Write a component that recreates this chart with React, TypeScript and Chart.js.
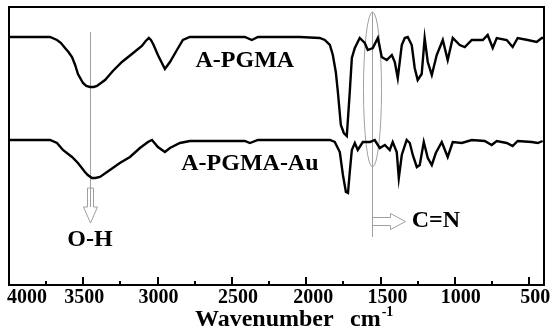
import React, { useEffect, useRef } from "react";
import { Chart, registerables } from "chart.js";
Chart.register(...registerables);

// ---- data (wavenumber in cm-1, signal in arbitrary units) ----
const seriesNames = ["A-PGMA", "A-PGMA-Au"];

const wnA = [4000, 3724, 3677, 3650, 3623, 3600, 3576, 3555, 3536, 3502, 3480, 3455, 3430, 3408, 3354, 3301, 3240, 3173, 3106, 3080, 3059, 3045, 3030, 2998, 2951, 2917, 2870, 2830, 2783, 2648, 2413, 2366, 2325, 2043, 1909, 1875, 1841, 1821, 1801, 1787, 1767, 1747, 1727, 1707, 1693, 1673, 1640, 1606, 1586, 1552, 1518, 1492, 1458, 1424, 1404, 1384, 1357, 1337, 1317, 1290, 1270, 1250, 1223, 1203, 1182, 1155, 1122, 1081, 1048, 1014, 967, 933, 886, 812, 779, 745, 718, 651, 611, 577, 510, 449, 415, 400];
const tA = [248, 248, 245, 242, 237, 233, 228, 220, 211, 202, 199, 198, 198, 199, 205, 214, 223, 231, 239, 244, 247, 245, 241, 230, 216, 223, 235, 245, 248, 248, 248, 245, 248, 248, 247, 245, 240, 230, 213, 193, 160, 152, 149, 193, 227, 237, 247, 242, 235, 237, 247, 228, 225, 230, 223, 207, 240, 247, 248, 240, 217, 205, 211, 247, 223, 210, 230, 245, 225, 247, 240, 238, 245, 245, 250, 237, 247, 245, 238, 247, 245, 243, 247, 247];

const wnAu = [4000, 3724, 3677, 3637, 3576, 3536, 3489, 3470, 3442, 3420, 3388, 3321, 3254, 3186, 3119, 3065, 3038, 2998, 2951, 2917, 2850, 2783, 2413, 2379, 2325, 1841, 1808, 1774, 1753, 1733, 1719, 1707, 1693, 1673, 1653, 1619, 1572, 1539, 1505, 1471, 1438, 1418, 1391, 1377, 1357, 1324, 1303, 1283, 1256, 1236, 1209, 1182, 1155, 1128, 1088, 1048, 1014, 953, 886, 799, 752, 718, 651, 611, 577, 483, 442, 409];
const tAu = [145, 145, 142, 135, 128, 122, 113, 110, 107, 107, 108, 115, 122, 128, 137, 143, 145, 138, 133, 137, 142, 144, 144, 142, 145, 145, 143, 133, 110, 93, 92, 113, 135, 142, 135, 143, 143, 145, 137, 140, 135, 143, 133, 107, 130, 145, 142, 130, 118, 120, 143, 127, 120, 132, 143, 128, 143, 142, 145, 144, 140, 144, 142, 139, 144, 143, 142, 144];

const tickValues = [4000, 3500, 3000, 2500, 2000, 1500, 1000, 500];
const minorTickValues = [3750, 3250, 2750, 2250, 1750, 1250, 750];
const xTitle = "Wavenumber";
const xUnit = "cm";
const xUnitSup = "-1";
const bandLabels = ["O-H", "C=N"];
const bandPositions = [3455, 1559];

const FONT = "'Liberation Serif', 'Times New Roman', serif";

const decorPlugin = {
  id: "decor",
  beforeDatasetsDraw(chart: any) {
    const { ctx } = chart;
    const x = chart.scales.x;
    const y = chart.scales.y;
    ctx.save();
    ctx.strokeStyle = "#a0a0a0";
    ctx.lineWidth = 1;
    // O-H marker line + hollow down arrow
    const xo = Math.round(x.getPixelForValue(bandPositions[0])) + 0.5;
    ctx.beginPath();
    ctx.moveTo(xo, y.getPixelForValue(253));
    ctx.lineTo(xo, y.getPixelForValue(78));
    ctx.stroke();
    const s0 = y.getPixelForValue(97);
    const s1 = y.getPixelForValue(78);
    const tip = y.getPixelForValue(62);
    ctx.beginPath();
    ctx.moveTo(xo - 3, s0);
    ctx.lineTo(xo + 3, s0);
    ctx.lineTo(xo + 3, s1);
    ctx.lineTo(xo + 7, s1);
    ctx.lineTo(xo, tip);
    ctx.lineTo(xo - 7, s1);
    ctx.lineTo(xo - 3, s1);
    ctx.closePath();
    ctx.stroke();
    // C=N marker line, ellipse and hollow right arrow
    const xc = Math.round(x.getPixelForValue(bandPositions[1])) + 0.5;
    ctx.beginPath();
    ctx.moveTo(xc, y.getPixelForValue(273));
    ctx.lineTo(xc, y.getPixelForValue(48));
    ctx.stroke();
    const eTop = y.getPixelForValue(273);
    const eBot = y.getPixelForValue(118);
    ctx.beginPath();
    ctx.ellipse(xc, (eTop + eBot) / 2, 9, (eBot - eTop) / 2, 0, 0, Math.PI * 2);
    ctx.stroke();
    const ay = Math.round(y.getPixelForValue(64)) + 0.5;
    ctx.beginPath();
    ctx.moveTo(xc, ay - 4);
    ctx.lineTo(xc + 18, ay - 4);
    ctx.lineTo(xc + 18, ay - 8);
    ctx.lineTo(xc + 33, ay);
    ctx.lineTo(xc + 18, ay + 8);
    ctx.lineTo(xc + 18, ay + 4);
    ctx.lineTo(xc, ay + 4);
    ctx.stroke();
    ctx.restore();
  },
  afterDraw(chart: any) {
    const { ctx, chartArea } = chart;
    const x = chart.scales.x;
    const y = chart.scales.y;
    ctx.save();
    // frame
    ctx.strokeStyle = "#000";
    ctx.lineWidth = 2;
    ctx.strokeRect(chartArea.left, chartArea.top, chartArea.right - chartArea.left, chartArea.bottom - chartArea.top);
    // inward ticks
    ctx.lineWidth = 2;
    ctx.beginPath();
    tickValues.forEach((v) => {
      const px = Math.round(x.getPixelForValue(v));
      ctx.moveTo(px, chartArea.bottom);
      ctx.lineTo(px, chartArea.bottom - 8);
    });
    minorTickValues.forEach((v) => {
      const px = Math.round(x.getPixelForValue(v));
      ctx.moveTo(px, chartArea.bottom);
      ctx.lineTo(px, chartArea.bottom - 4);
    });
    ctx.stroke();
    // tick labels
    ctx.fillStyle = "#000";
    ctx.font = `bold 20px ${FONT}`;
    ctx.textBaseline = "middle";
    const shift: Record<number, number> = { 3500: 1, 3000: 1, 2500: 6, 2000: 7, 1500: 7, 1000: 6, 500: 6 };
    tickValues.forEach((v, i) => {
      const px = x.getPixelForValue(v);
      if (i === 0) {
        ctx.textAlign = "left";
        ctx.fillText(String(v), 7, chartArea.bottom + 13);
      } else {
        ctx.textAlign = "center";
        ctx.fillText(String(v), px + (shift[v] || 0), chartArea.bottom + 13);
      }
    });
    // axis title
    ctx.textAlign = "left";
    ctx.textBaseline = "alphabetic";
    ctx.font = `bold 24px ${FONT}`;
    ctx.fillText(xTitle, 195, 326);
    ctx.fillText(xUnit, 350, 326);
    const cmW = ctx.measureText(xUnit).width;
    ctx.font = `bold 14px ${FONT}`;
    ctx.fillText(xUnitSup, 350 + cmW + 1, 316);
    // series and band labels
    ctx.font = `bold 24px ${FONT}`;
    ctx.textAlign = "center";
    ctx.textBaseline = "middle";
    ctx.fillText(seriesNames[0], x.getPixelForValue(2413), y.getPixelForValue(224));
    ctx.fillText(seriesNames[1], x.getPixelForValue(2379), y.getPixelForValue(121));
    ctx.fillText(bandLabels[0], x.getPixelForValue(bandPositions[0]), y.getPixelForValue(45));
    ctx.textAlign = "left";
    ctx.fillText(bandLabels[1], x.getPixelForValue(1290), y.getPixelForValue(64));
    ctx.restore();
  },
};

export default function App() {
  const ref = useRef<HTMLCanvasElement | null>(null);
  useEffect(() => {
    if (!ref.current) return;
    const chart = new Chart(ref.current, {
      type: "line",
      data: {
        datasets: [
          {
            label: seriesNames[0],
            data: wnA.map((w, i) => ({ x: w, y: tA[i] })),
            borderColor: "#000",
            borderWidth: 2.4,
            pointRadius: 0,
            tension: 0,
            fill: false,
          },
          {
            label: seriesNames[1],
            data: wnAu.map((w, i) => ({ x: w, y: tAu[i] })),
            borderColor: "#000",
            borderWidth: 2.4,
            pointRadius: 0,
            tension: 0,
            fill: false,
          },
        ],
      },
      options: {
        animation: false,
        responsive: false,
        devicePixelRatio: 1,
        layout: { padding: { left: 9, right: 6, top: 7, bottom: 47 } },
        plugins: { legend: { display: false }, tooltip: { enabled: false } },
        scales: {
          x: { type: "linear", min: 400, max: 4000, reverse: true, display: false },
          y: { type: "linear", min: 0, max: 278, display: false },
        },
      },
      plugins: [decorPlugin],
    });
    return () => chart.destroy();
  }, []);
  return (
    <div style={{ position: "fixed", left: 0, top: 0, width: 550, height: 332, background: "#fff" }}>
      <canvas ref={ref} width={550} height={332} />
    </div>
  );
}
